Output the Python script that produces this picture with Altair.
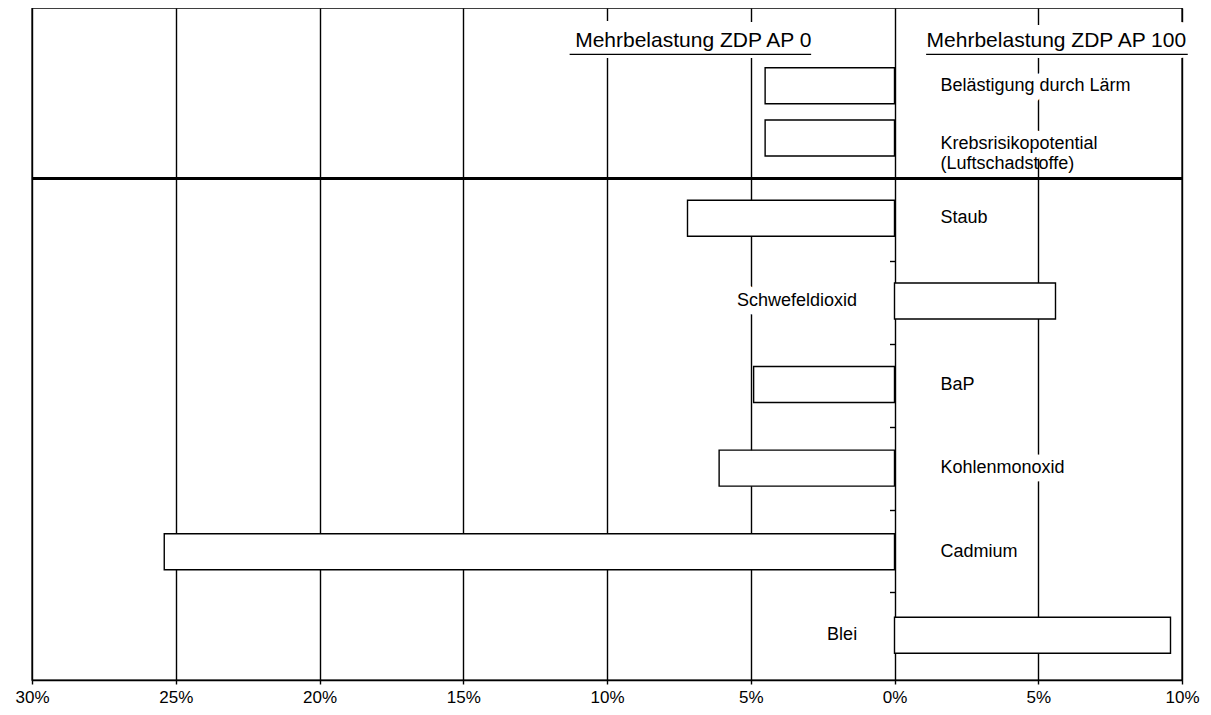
import altair as alt
import pandas as pd

# ---- data ----
categories = ["Belästigung durch Lärm", "Krebsrisikopotential\n(Luftschadstoffe)", "Staub",
              "Schwefeldioxid", "BaP", "Kohlenmonoxid", "Cadmium", "Blei"]
values = [-4.5, -4.5, -7.2, 5.6, -4.9, -6.1, -25.4, 9.6]      # percent (negative = AP 0 side)
rows = [0.88, 1.51, 2.48, 3.48, 4.49, 5.5, 6.51, 7.52]         # row slot of each category
x_ticks = [-30, -25, -20, -15, -10, -5, 0, 5, 10]
row_ticks = [3, 4, 5, 6, 7]
headers = ["Mehrbelastung ZDP AP 0", "Mehrbelastung ZDP AP 100"]
header_x = [-7.0, 5.63]
header_row = [0.34, 0.34]
underline_from = [-11.3, 1.1]
underline_to = [-2.9, 10.2]
underline_row = 0.5
separator_row = 2.0

FONT = "Liberation Sans"
W, H = 1150, 672

df = pd.DataFrame({"cat": categories, "value": values, "row": rows})
df["halo"] = [c.split("\n")[0] + ("\n " if "\n" in c else "") for c in categories]
hdr = pd.DataFrame({"text": headers, "x": header_x, "row": header_row,
                    "x1": underline_from, "x2": underline_to,
                    "urow": [underline_row] * len(headers)})
sep = pd.DataFrame({"row": [separator_row]})

x_scale = alt.Scale(domain=[-30, 10], nice=False)
y_scale = alt.Scale(domain=[0, 8], reverse=True, nice=False, zero=False)

x_axis = alt.Axis(values=x_ticks, labelExpr="abs(datum.value) + '%'", title=None,
                  grid=True, gridColor="black", gridWidth=1.4, gridOpacity=1,
                  domainColor="black", domainWidth=1.4, tickColor="black", tickSize=4,
                  tickWidth=1.4, labelFont=FONT, labelFontSize=17, labelColor="black",
                  labelPadding=5, labelFlush=False, labelOverlap=False)
y_axis = alt.Axis(values=row_ticks, orient="left", offset=-W * 30 / 40, labels=False,
                  domain=False, grid=False, ticks=True, tickSize=5, tickColor="black",
                  tickWidth=1.4, title=None)


def X(*a, **k):
    return alt.X(*a, scale=x_scale, axis=x_axis, **k)


def Y(*a, **k):
    return alt.Y(*a, scale=y_scale, axis=y_axis, **k)


base = alt.Chart(df)

bars = base.mark_bar(orient="horizontal", size=36, fill="white", stroke="black",
                     strokeWidth=1.4).encode(x=X("value:Q"), y=Y("row:Q"))

txt_kw = dict(font=FONT, fontSize=18, lineBreak="\n", lineHeight=20, baseline="middle")
halo_kw = dict(fill="white", stroke="white", strokeWidth=17, strokeJoin="round")

# multi-line labels sit slightly lower than their bar, as in the reference
lbl = base.transform_calculate(
    lrow="datum.row + (indexof(datum.cat, '\\n') >= 0 ? 0.07 : 0)")
left = lbl.transform_filter("datum.value < 0")
right = lbl.transform_filter("datum.value >= 0")

enc_l = dict(x=X(datum=1.6, type="quantitative"), y=Y("lrow:Q"))
enc_r = dict(x=X(datum=-1.3, type="quantitative"), y=Y("lrow:Q"))

halo_l = left.mark_text(align="left", **txt_kw, **halo_kw).encode(text="halo:N", **enc_l)
halo_r = right.mark_text(align="right", **txt_kw, **halo_kw).encode(text="halo:N", **enc_r)
lbl_l = left.mark_text(align="left", color="black", **txt_kw).encode(text="cat:N", **enc_l)
lbl_r = right.mark_text(align="right", color="black", **txt_kw).encode(text="cat:N", **enc_r)

hbase = alt.Chart(hdr)
hdr_halo = hbase.mark_text(font=FONT, fontSize=21, baseline="middle", align="center",
                           fill="white", stroke="white", strokeWidth=22,
                           strokeJoin="round").encode(x=X("x:Q"), y=Y("row:Q"), text="text:N")
hdr_txt = hbase.mark_text(font=FONT, fontSize=21, baseline="middle", align="center",
                          color="black").encode(x=X("x:Q"), y=Y("row:Q"), text="text:N")
hdr_line = hbase.mark_rule(color="black", strokeWidth=1.3).encode(
    x=X("x1:Q"), x2="x2:Q", y=Y("urow:Q"))

separator = alt.Chart(sep).mark_rule(color="black", strokeWidth=3).encode(y=Y("row:Q"))

chart = alt.layer(
    halo_l, halo_r, hdr_halo, bars, separator, lbl_l, lbl_r, hdr_txt, hdr_line
).properties(
    width=W, height=H,
    autosize=alt.AutoSizeParams(type="none"),
    padding={"left": 24, "top": 0, "right": 20, "bottom": 30},
).configure_view(stroke="black", strokeWidth=1.4)

chart.save("out.html", embed_options={"renderer": "svg", "actions": False})
